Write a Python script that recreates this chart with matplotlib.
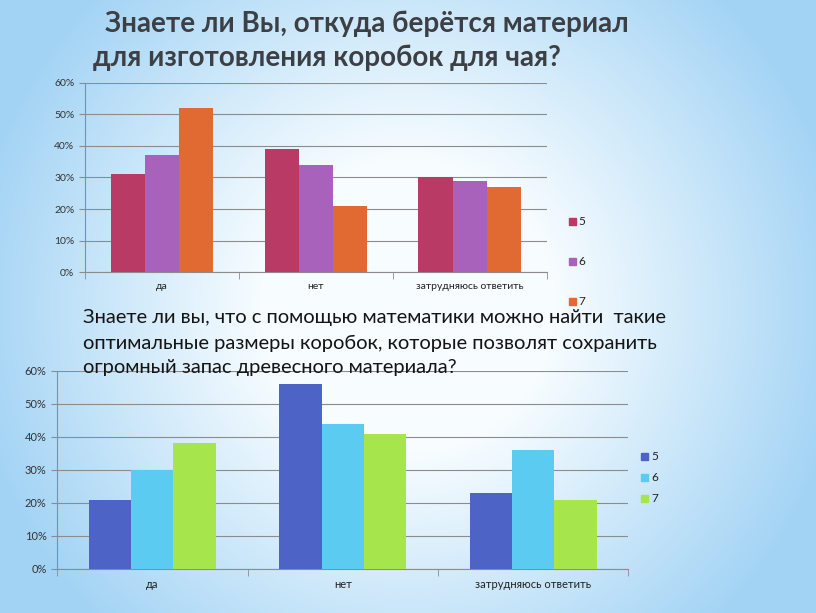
import numpy as np
import matplotlib
matplotlib.use("Agg")
import matplotlib.pyplot as plt
from matplotlib.patches import Rectangle
from matplotlib.ticker import FuncFormatter

# ---------- DATA ----------
categories = ["да", "нет", "затрудняюсь ответить"]
series_names = ["5", "6", "7"]

top_5 = [0.31, 0.39, 0.30]
top_6 = [0.37, 0.34, 0.29]
top_7 = [0.52, 0.21, 0.27]

bottom_5 = [0.21, 0.56, 0.23]
bottom_6 = [0.30, 0.44, 0.36]
bottom_7 = [0.38, 0.41, 0.21]

title_top = ["Знаете ли Вы, откуда берётся материал",
             "для изготовления коробок для чая?"]
title_bottom = ["Знаете ли вы, что с помощью математики можно найти  такие",
                "оптимальные размеры коробок, которые позволят сохранить",
                "огромный запас древесного материала?"]

top_colors = ["#b93a64", "#a862bb", "#e06a32"]
bottom_colors = ["#4e63c6", "#5ccbf2", "#a7e54d"]

plt.rcParams['font.family'] = ['Lato', 'DejaVu Sans']

fig = plt.figure(figsize=(8.16, 6.13), dpi=100)
W, H = 816, 613

# ---------- BACKGROUND ----------
bg = fig.add_axes([0, 0, 1, 1], zorder=-10)
yy, xx = np.mgrid[0:1:300j, 0:1:400j]
r = np.sqrt(((xx - 0.5) / 0.6) ** 2 + ((yy - 0.5) / 0.8) ** 2)
t = np.clip((r - 0.3) / 0.6, 0, 1)
c_in = np.array([0.97, 0.99, 1.0])
c_out = np.array([0.64, 0.83, 0.96])
img = c_in[None, None, :] * (1 - t[..., None]) + c_out[None, None, :] * t[..., None]
bg.imshow(img, aspect="auto", extent=[0, 1, 0, 1])
bg.axis("off")


def bar_chart(rect, values, colors, legend_pos, legend_gap, fs):
    ax = fig.add_axes(rect)
    ax.patch.set_alpha(0)
    x = np.arange(len(categories))
    w = 0.222
    for i, (vals, col) in enumerate(zip(values, colors)):
        ax.bar(x + (i - 1) * w, vals, w, color=col, zorder=3)
    ax.set_xlim(-0.5, len(categories) - 0.5)
    ax.set_ylim(0, 0.6)
    ax.set_yticks(np.arange(0, 0.61, 0.1))
    ax.yaxis.set_major_formatter(FuncFormatter(lambda v, p: f"{v * 100:.0f}%"))
    ax.grid(axis="y", color="#8c8c8c", linewidth=0.8, zorder=0)
    ax.set_xticks(x)
    ax.set_xticklabels(categories)
    ax.set_xticks(np.arange(-0.5, len(categories)), minor=True)
    ax.tick_params(axis="x", which="major", length=0, labelsize=fs, pad=7, colors="#222222")
    ax.tick_params(axis="x", which="minor", length=5, color="#8c8c8c")
    ax.tick_params(axis="y", length=4, color="#8c8c8c", labelsize=fs, colors="#333333")
    for s in ["top", "right"]:
        ax.spines[s].set_visible(False)
    for s in ["left", "bottom"]:
        ax.spines[s].set_color("#8c8c8c")
    # legend: small squares with labels
    lx, ly = legend_pos
    sq = 7
    for i, (name, col) in enumerate(zip(series_names, colors)):
        yc = ly - i * legend_gap
        fig.patches.append(Rectangle((lx, yc - sq / 2 / H), sq / W, sq / H,
                                     transform=fig.transFigure, color=col))
        fig.text(lx + 0.012, yc, name, color="#222222",
                 fontsize=8.5, va="center", ha="left")
    return ax


bar_chart([0.104, 0.556, 0.566, 0.309], [top_5, top_6, top_7], top_colors,
          (0.697, 0.638), 0.065, 7.5)
bar_chart([0.070, 0.072, 0.700, 0.323], [bottom_5, bottom_6, bottom_7], bottom_colors,
          (0.786, 0.255), 0.034, 8)

fig.text(0.129, 0.962, title_top[0], fontsize=20, fontweight="bold",
         color="#3c3f44", va="center", ha="left")
fig.text(0.114, 0.905, title_top[1], fontsize=20, fontweight="bold",
         color="#3c3f44", va="center", ha="left")

for line, yb in zip(title_bottom, [0.473, 0.431, 0.3915]):
    fig.text(0.102, yb, line, fontsize=14.5, color="#141414",
             va="baseline", ha="left")

fig.savefig("out.png", dpi=100)
